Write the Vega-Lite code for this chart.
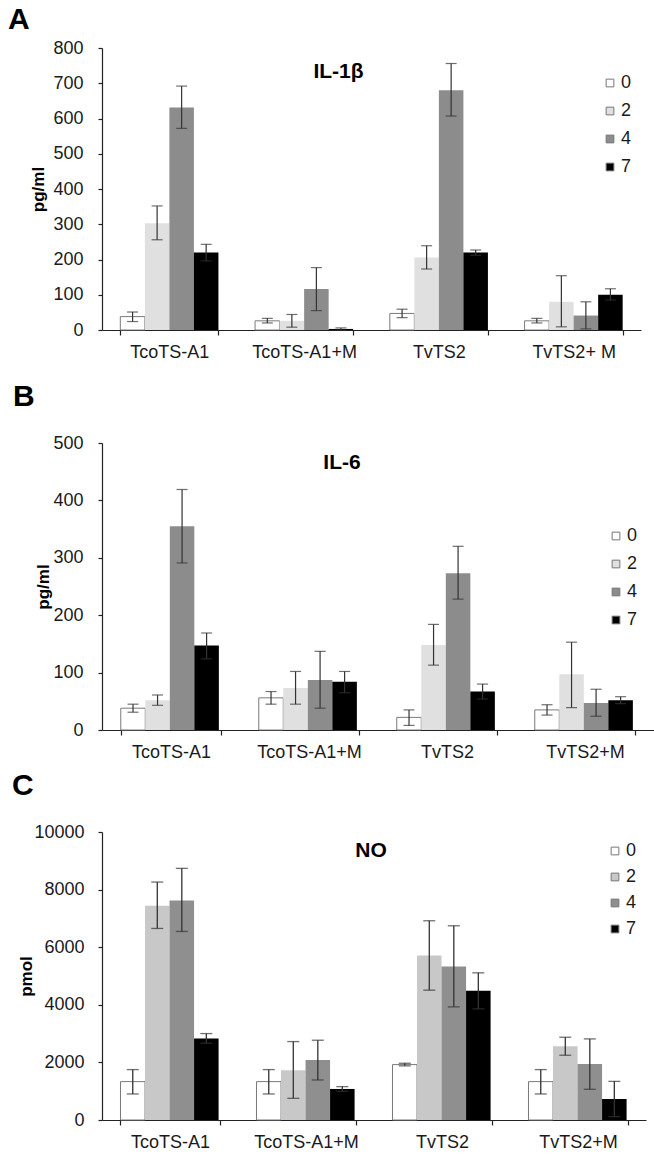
{
  "$schema": "https://vega.github.io/schema/vega-lite/v6.json",
  "padding": {"left": 7, "top": 5, "right": 3, "bottom": 0},
  "background": "white",
  "config": {
    "font": "Liberation Sans",
    "view": {"stroke": null},
    "axis": {"labelFont": "Liberation Sans", "labelFontSize": 18, "labelColor": "#1a1a1a", "domainColor": "#222", "tickColor": "#222", "domainWidth": 1.2, "tickWidth": 1.2, "grid": false, "labelOverlap": false},
    "legend": {"labelFont": "Liberation Sans", "labelFontSize": 18, "labelColor": "#1a1a1a"},
    "title": {"font": "Liberation Sans"}
  },
  "datasets": {
    "il1b": [
      {"g": "TcoTS-A1", "d": "0", "v": 38, "lo": 24, "hi": 51},
      {"g": "TcoTS-A1", "d": "2", "v": 303, "lo": 256, "hi": 352},
      {"g": "TcoTS-A1", "d": "4", "v": 631, "lo": 572, "hi": 692},
      {"g": "TcoTS-A1", "d": "7", "v": 220, "lo": 196, "hi": 243},
      {"g": "TcoTS-A1+M", "d": "0", "v": 26, "lo": 20, "hi": 33},
      {"g": "TcoTS-A1+M", "d": "2", "v": 26, "lo": 8, "hi": 44},
      {"g": "TcoTS-A1+M", "d": "4", "v": 116, "lo": 55, "hi": 177},
      {"g": "TcoTS-A1+M", "d": "7", "v": 3, "lo": 0, "hi": 6},
      {"g": "TvTS2", "d": "0", "v": 47, "lo": 35, "hi": 59},
      {"g": "TvTS2", "d": "2", "v": 206, "lo": 173, "hi": 239},
      {"g": "TvTS2", "d": "4", "v": 680, "lo": 607, "hi": 756},
      {"g": "TvTS2", "d": "7", "v": 220, "lo": 212, "hi": 227},
      {"g": "TvTS2+ M", "d": "0", "v": 26, "lo": 20, "hi": 33},
      {"g": "TvTS2+ M", "d": "2", "v": 80, "lo": 9, "hi": 154},
      {"g": "TvTS2+ M", "d": "4", "v": 41, "lo": 3, "hi": 80},
      {"g": "TvTS2+ M", "d": "7", "v": 100, "lo": 85, "hi": 117}
    ],
    "il6": [
      {"g": "TcoTS-A1", "d": "0", "v": 38, "lo": 31, "hi": 45},
      {"g": "TcoTS-A1", "d": "2", "v": 52, "lo": 43, "hi": 61},
      {"g": "TcoTS-A1", "d": "4", "v": 355, "lo": 291, "hi": 419},
      {"g": "TcoTS-A1", "d": "7", "v": 147, "lo": 124, "hi": 169},
      {"g": "TcoTS-A1+M", "d": "0", "v": 56, "lo": 45, "hi": 67},
      {"g": "TcoTS-A1+M", "d": "2", "v": 73, "lo": 45, "hi": 102},
      {"g": "TcoTS-A1+M", "d": "4", "v": 87, "lo": 38, "hi": 137},
      {"g": "TcoTS-A1+M", "d": "7", "v": 84, "lo": 65, "hi": 102},
      {"g": "TvTS2", "d": "0", "v": 22, "lo": 8, "hi": 35},
      {"g": "TvTS2", "d": "2", "v": 148, "lo": 113, "hi": 184},
      {"g": "TvTS2", "d": "4", "v": 273, "lo": 228, "hi": 320},
      {"g": "TvTS2", "d": "7", "v": 67, "lo": 54, "hi": 80},
      {"g": "TvTS2+M", "d": "0", "v": 35, "lo": 26, "hi": 44},
      {"g": "TvTS2+M", "d": "2", "v": 97, "lo": 39, "hi": 153},
      {"g": "TvTS2+M", "d": "4", "v": 47, "lo": 24, "hi": 71},
      {"g": "TvTS2+M", "d": "7", "v": 52, "lo": 46, "hi": 58}
    ],
    "no": [
      {"g": "TcoTS-A1", "d": "0", "v": 1333, "lo": 904, "hi": 1750},
      {"g": "TcoTS-A1", "d": "2", "v": 7440, "lo": 6651, "hi": 8262},
      {"g": "TcoTS-A1", "d": "4", "v": 7625, "lo": 6547, "hi": 8737},
      {"g": "TcoTS-A1", "d": "7", "v": 2827, "lo": 2665, "hi": 3001},
      {"g": "TcoTS-A1+M", "d": "0", "v": 1333, "lo": 904, "hi": 1750},
      {"g": "TcoTS-A1+M", "d": "2", "v": 1727, "lo": 753, "hi": 2723},
      {"g": "TcoTS-A1+M", "d": "4", "v": 2086, "lo": 1390, "hi": 2770},
      {"g": "TcoTS-A1+M", "d": "7", "v": 1078, "lo": 997, "hi": 1159},
      {"g": "TvTS2", "d": "0", "v": 1924, "lo": 1880, "hi": 1970},
      {"g": "TvTS2", "d": "2", "v": 5713, "lo": 4508, "hi": 6918},
      {"g": "TvTS2", "d": "4", "v": 5330, "lo": 3928, "hi": 6744},
      {"g": "TvTS2", "d": "7", "v": 4484, "lo": 3859, "hi": 5110},
      {"g": "TvTS2+M", "d": "0", "v": 1333, "lo": 904, "hi": 1750},
      {"g": "TvTS2+M", "d": "2", "v": 2561, "lo": 2248, "hi": 2874},
      {"g": "TvTS2+M", "d": "4", "v": 1947, "lo": 1066, "hi": 2816},
      {"g": "TvTS2+M", "d": "7", "v": 730, "lo": 116, "hi": 1344}
    ]
  },
  "spacing": 21,
  "align": "none",
  "resolve": {"scale": {"fill": "independent", "stroke": "independent", "x": "independent", "y": "independent"}, "legend": {"fill": "independent"}},
  "vconcat": [
    {
      "title": {"text": "A", "anchor": "start", "fontSize": 30, "fontWeight": "bold", "dx": -22, "offset": 4, "color": "#000"},
      "resolve": {"scale": {"fill": "independent"}, "legend": {"fill": "independent"}},
      "vconcat": [
        {
          "width": 539, "height": 282,
          "data": {"name": "il1b"},
          "title": {"text": "IL-1β", "fontSize": 21, "fontWeight": "bold", "anchor": "middle", "dx": -33, "offset": -43, "color": "#000"},
          "encoding": {
            "x": {"field": "g", "type": "nominal", "sort": null, "scale": {"paddingInner": 0.272, "paddingOuter": 0.136}, "axis": {"title": null, "labelAngle": 0, "tickBand": "extent", "tickSize": 5, "labelPadding": 8}},
            "xOffset": {"field": "d", "type": "nominal", "sort": null, "scale": {"paddingInner": 0, "paddingOuter": 0}}
          },
          "layer": [
            {
              "mark": {"type": "bar", "strokeWidth": 1},
              "encoding": {
                "y": {"field": "v", "type": "quantitative", "scale": {"domain": [0, 800]}, "axis": {"title": "pg/ml", "titleFontSize": 17, "titleFontWeight": "bold", "titleColor": "#000", "values": [0, 100, 200, 300, 400, 500, 600, 700, 800], "tickSize": 4, "labelPadding": 15, "titlePadding": 5}},
                "fill": {"field": "d", "type": "nominal", "sort": null, "scale": {"domain": ["0", "2", "4", "7"], "range": ["#ffffff", "#e0e0e0", "#8c8c8c", "#000000"]}, "legend": {"title": null, "orient": "none", "legendX": 499, "legendY": 26, "symbolType": "square", "symbolSize": 60, "symbolStrokeColor": "#777", "symbolStrokeWidth": 1, "rowPadding": 10, "labelOffset": 2}},
                "stroke": {"condition": {"test": "datum.d === '0'", "value": "#7a7a7a"}, "value": "transparent"}
              }
            },
            {
              "mark": {"type": "rule", "color": "#333", "strokeWidth": 1.2},
              "encoding": {"y": {"field": "lo", "type": "quantitative", "axis": {"values": [0, 100, 200, 300, 400, 500, 600, 700, 800]}}, "y2": {"field": "hi"}}
            },
            {
              "mark": {"type": "tick", "color": "#333", "thickness": 1.2, "size": 11},
              "encoding": {"y": {"field": "lo", "type": "quantitative", "axis": {"values": [0, 100, 200, 300, 400, 500, 600, 700, 800]}}}
            },
            {
              "mark": {"type": "tick", "color": "#333", "thickness": 1.2, "size": 11},
              "encoding": {"y": {"field": "hi", "type": "quantitative", "axis": {"values": [0, 100, 200, 300, 400, 500, 600, 700, 800]}}}
            }
          ]
        }
      ]
    },
    {
      "spacing": 10,
      "align": "none",
      "resolve": {"scale": {"fill": "independent", "x": "independent", "y": "independent"}, "legend": {"fill": "independent"}},
      "vconcat": [
        {
          "title": {"text": "B", "anchor": "start", "fontSize": 30, "fontWeight": "bold", "dx": -22, "offset": 22, "color": "#000"},
          "resolve": {"scale": {"fill": "independent"}, "legend": {"fill": "independent"}},
          "vconcat": [
            {
              "width": 552, "height": 287,
              "data": {"name": "il6"},
              "title": {"text": "IL-6", "fontSize": 21, "fontWeight": "bold", "anchor": "middle", "dx": -36, "offset": -39, "color": "#000"},
              "encoding": {
                "x": {"field": "g", "type": "nominal", "sort": null, "scale": {"paddingInner": 0.272, "paddingOuter": 0.136}, "axis": {"title": null, "labelAngle": 0, "tickBand": "extent", "tickSize": 5, "labelPadding": 8}},
                "xOffset": {"field": "d", "type": "nominal", "sort": null, "scale": {"paddingInner": 0, "paddingOuter": 0}}
              },
              "layer": [
                {
                  "mark": {"type": "bar", "strokeWidth": 1},
                  "encoding": {
                    "y": {"field": "v", "type": "quantitative", "scale": {"domain": [0, 500]}, "axis": {"title": "pg/ml", "titleFontSize": 17, "titleFontWeight": "bold", "titleColor": "#000", "values": [0, 100, 200, 300, 400, 500], "tickSize": 4, "labelPadding": 15, "titlePadding": 0}},
                    "fill": {"field": "d", "type": "nominal", "sort": null, "scale": {"domain": ["0", "2", "4", "7"], "range": ["#ffffff", "#e0e0e0", "#8c8c8c", "#000000"]}, "legend": {"title": null, "orient": "none", "legendX": 505, "legendY": 84, "symbolType": "square", "symbolSize": 60, "symbolStrokeColor": "#777", "symbolStrokeWidth": 1, "rowPadding": 10, "labelOffset": 2}},
                    "stroke": {"condition": {"test": "datum.d === '0'", "value": "#7a7a7a"}, "value": "transparent"}
                  }
                },
                {
                  "mark": {"type": "rule", "color": "#333", "strokeWidth": 1.2},
                  "encoding": {"y": {"field": "lo", "type": "quantitative"}, "y2": {"field": "hi"}}
                },
                {
                  "mark": {"type": "tick", "color": "#333", "thickness": 1.2, "size": 11},
                  "encoding": {"y": {"field": "lo", "type": "quantitative"}}
                },
                {
                  "mark": {"type": "tick", "color": "#333", "thickness": 1.2, "size": 11},
                  "encoding": {"y": {"field": "hi", "type": "quantitative"}}
                }
              ]
            }
          ]
        },
        {
          "title": {"text": "C", "anchor": "start", "fontSize": 30, "fontWeight": "bold", "dx": -6, "offset": 22, "color": "#000"},
          "resolve": {"scale": {"fill": "independent"}, "legend": {"fill": "independent"}},
          "vconcat": [
            {
              "width": 544, "height": 288,
              "data": {"name": "no"},
              "title": {"text": "NO", "fontSize": 21, "fontWeight": "bold", "anchor": "middle", "dx": -3, "offset": -38, "color": "#000"},
              "encoding": {
                "x": {"field": "g", "type": "nominal", "sort": null, "scale": {"paddingInner": 0.272, "paddingOuter": 0.136}, "axis": {"title": null, "labelAngle": 0, "tickBand": "extent", "tickSize": 5, "labelPadding": 8}},
                "xOffset": {"field": "d", "type": "nominal", "sort": null, "scale": {"paddingInner": 0, "paddingOuter": 0}}
              },
              "layer": [
                {
                  "mark": {"type": "bar", "strokeWidth": 1},
                  "encoding": {
                    "y": {"field": "v", "type": "quantitative", "scale": {"domain": [0, 10000]}, "axis": {"title": "pmol", "titleFontSize": 17, "titleFontWeight": "bold", "titleColor": "#000", "values": [0, 2000, 4000, 6000, 8000, 10000], "format": "d", "tickSize": 4, "labelPadding": 14, "titlePadding": -2}},
                    "fill": {"field": "d", "type": "nominal", "sort": null, "scale": {"domain": ["0", "2", "4", "7"], "range": ["#ffffff", "#c8c8c8", "#8f8f8f", "#000000"]}, "legend": {"title": null, "orient": "none", "legendX": 504, "legendY": 10, "symbolType": "square", "symbolSize": 60, "symbolStrokeColor": "#777", "symbolStrokeWidth": 1, "rowPadding": 8, "labelOffset": 2}},
                    "stroke": {"condition": {"test": "datum.d === '0'", "value": "#7a7a7a"}, "value": "transparent"}
                  }
                },
                {
                  "mark": {"type": "rule", "color": "#333", "strokeWidth": 1.3},
                  "encoding": {"y": {"field": "lo", "type": "quantitative"}, "y2": {"field": "hi"}}
                },
                {
                  "mark": {"type": "tick", "color": "#333", "thickness": 1.3, "size": 12},
                  "encoding": {"y": {"field": "lo", "type": "quantitative"}}
                },
                {
                  "mark": {"type": "tick", "color": "#333", "thickness": 1.3, "size": 12},
                  "encoding": {"y": {"field": "hi", "type": "quantitative"}}
                }
              ]
            }
          ]
        }
      ]
    }
  ]
}
